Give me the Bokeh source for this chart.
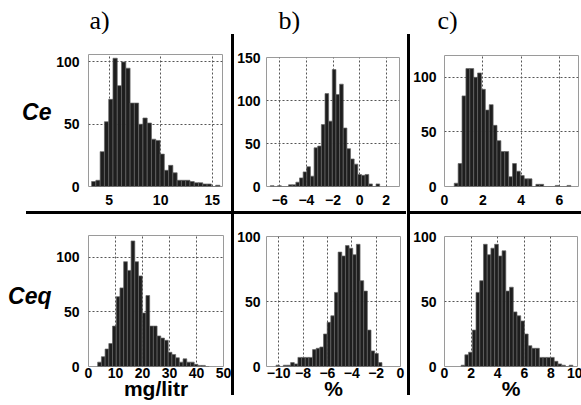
import numpy as np
from bokeh.plotting import figure
from bokeh.layouts import row, column
from bokeh.models import Div, Label, FixedTicker, Spacer, Range1d
from bokeh.embed import file_html
from bokeh.resources import INLINE

# ---------------- data (histogram counts) ----------------
# a) Ce, mg/litr
a_start, a_width = 3.3, 0.415
a_counts = [4, 5, 28, 52, 70, 103, 81, 100, 95, 67, 67, 50, 55, 51, 38, 37, 26, 13, 17, 11,
            5, 5, 5, 4, 3, 3, 2, 2, 0, 1]
# b) Ce, %
b_start, b_width = -6.71, 0.274
b_counts = [1, 0, 1, 0, 0, 2, 2, 5, 10, 17, 23, 12, 45, 47, 72, 108, 76, 136, 107, 119,
            68, 44, 32, 26, 14, 13, 14, 3, 0, 3]
# c) Ce, %
c_start, c_width = 0.51, 0.203
c_counts = [3, 21, 83, 108, 108, 100, 104, 89, 70, 75, 56, 42, 32, 32, 9, 21, 14, 10, 7, 7,
            0, 2, 2, 0, 0, 0, 1, 0, 0, 1]
# a) Ceq, mg/litr
d_start, d_width = 3.4, 1.375
d_counts = [4, 9, 16, 21, 37, 64, 72, 96, 88, 115, 96, 83, 49, 65, 37, 37, 28, 26, 24, 13,
            11, 8, 4, 7, 4, 4, 2, 1, 1, 0]
# b) Ceq, %
e_start, e_width = -10.22, 0.3
e_counts = [1, 0, 1, 1, 3, 2, 7, 7, 7, 7, 13, 14, 15, 25, 34, 39, 57, 88, 85, 93,
            91, 86, 94, 66, 58, 28, 12, 10, 3]
# c) Ceq, %
f_start, f_width = 1.25, 0.28
f_counts = [1, 9, 11, 28, 57, 66, 94, 86, 91, 94, 85, 89, 58, 61, 42, 39, 35, 25, 16, 14,
            14, 7, 7, 7, 7, 4, 2, 1, 0, 1]

a_xticks = [5, 10, 15]
b_xticks = [-6, -4, -2, 0, 2]
c_xticks = [0, 2, 4, 6]
d_xticks = [0, 10, 20, 30, 40, 50]
e_xticks = [-10, -8, -6, -4, -2, 0]
f_xticks = [0, 2, 4, 6, 8, 10]
a_yticks = [0, 50, 100]
b_yticks = [0, 50, 100, 150]
c_yticks = [0, 50, 100]
d_yticks = [0, 50, 100]
e_yticks = [0, 50, 100]
f_yticks = [0, 50, 100]

panel_letters = ["a)", "b)", "c)"]
row_names = ["Ce", "Ceq"]
x_units = ["mg/litr", "%", "%"]

SANS = "Liberation Sans"
SERIF = "Liberation Serif"


def make_hist(start, width, counts, xr, yr, xticks, yticks,
              fw, fh, bl, br, bt, bb, xstand, ystand, xlabel=None):
    p = figure(frame_width=fw, frame_height=fh,
               x_range=Range1d(*xr), y_range=Range1d(*yr),
               min_border_left=bl, min_border_right=br,
               min_border_top=bt, min_border_bottom=bb,
               output_backend="svg", toolbar_location=None, tools="", title=None)
    edges = start + width * np.arange(len(counts) + 1)
    p.quad(left=edges[:-1], right=edges[1:], bottom=0, top=counts,
           fill_color="#1e1e1e", line_color="#666666", line_width=0.7)
    p.xaxis.ticker = FixedTicker(ticks=xticks)
    p.yaxis.ticker = FixedTicker(ticks=yticks)
    p.xgrid.ticker = FixedTicker(ticks=xticks)
    p.ygrid.ticker = FixedTicker(ticks=yticks)
    for g in (p.xgrid, p.ygrid):
        g.grid_line_color = "#555555"
        g.grid_line_dash = "2 2"
        g.grid_line_width = 1
        g.grid_line_alpha = 1.0
    for ax in (p.xaxis, p.yaxis):
        ax.axis_line_color = None
        ax.major_tick_in = 0
        ax.major_tick_out = 0
        ax.minor_tick_in = 0
        ax.minor_tick_out = 0
        ax.major_label_text_font = SANS
        ax.major_label_text_font_style = "bold"
        ax.major_label_text_font_size = "14px"
        ax.major_label_text_color = "black"
    p.xaxis.major_label_standoff = xstand
    p.yaxis.major_label_standoff = ystand
    if xlabel is not None:
        p.xaxis.axis_label = xlabel
        p.xaxis.axis_label_text_font = SANS
        p.xaxis.axis_label_text_font_style = "bold"
        p.xaxis.axis_label_text_font_size = "21px"
        p.xaxis.axis_label_text_color = "black"
        p.xaxis.axis_label_standoff = -4
    p.outline_line_color = "#9a9a9a"
    p.outline_line_width = 1
    p.background_fill_color = "white"
    p.border_fill_color = "white"
    return p


def text_strip(w, h):
    s = figure(width=w, height=h, x_range=Range1d(0, 1), y_range=Range1d(0, 1),
               min_border=0, min_border_left=0, min_border_right=0,
               min_border_top=0, min_border_bottom=0,
               x_axis_type=None, y_axis_type=None, output_backend="svg",
               toolbar_location=None, tools="", title=None)
    s.grid.visible = False
    s.outline_line_color = None
    s.background_fill_color = "white"
    s.border_fill_color = "white"
    return s


pa = make_hist(a_start, a_width, a_counts, (3, 16), (0, 106), a_xticks, a_yticks,
               134, 132, 36, 9, 20, 25, 8, 9)
pb = make_hist(b_start, b_width, b_counts, (-7, 3), (0, 150), b_xticks, b_yticks,
               133, 129, 31, 8, 23, 25, 8, 6)
pc = make_hist(c_start, c_width, c_counts, (0, 7), (0, 120), c_xticks, c_yticks,
               134, 131, 33, 4, 21, 25, 8, 8)
pd = make_hist(d_start, d_width, d_counts, (0, 50), (0, 120), d_xticks, d_yticks,
               135, 131, 36, 8, 21, 38, 1, 9, xlabel=x_units[0])
pe = make_hist(e_start, e_width, e_counts, (-11, 0), (0, 100), e_xticks, e_yticks,
               134, 130, 31, 7, 22, 38, 1, 6, xlabel=x_units[1])
pf = make_hist(f_start, f_width, f_counts, (0, 10), (0, 100), f_xticks, f_yticks,
               133, 130, 33, 5, 22, 38, 1, 8, xlabel=x_units[2])

# strip with the panel letters
top = text_strip(580, 34)
for txt, lx in zip(panel_letters, (89, 278, 437)):
    top.add_layout(Label(x=lx, y=14, x_units="screen", y_units="screen", text=txt,
                         text_font=SERIF, text_font_size="26px", text_color="black",
                         text_baseline="alphabetic", text_align="left"))

# strips with the row names
ce = text_strip(52, 177)
ce.add_layout(Label(x=51, y=100, x_units="screen", y_units="screen", text=row_names[0],
                    text_font=SANS, text_font_size="23px", text_font_style="bold italic",
                    text_color="black", text_baseline="alphabetic", text_align="right"))
ceq = text_strip(52, 190)
ceq.add_layout(Label(x=51, y=109, x_units="screen", y_units="screen", text=row_names[1],
                     text_font=SANS, text_font_size="23px", text_font_style="bold italic",
                     text_color="black", text_baseline="alphabetic", text_align="right"))


def black(w, h):
    return Div(text="", width=w, height=h, margin=0,
               styles={"background-color": "black"})


colL = column(ce, row(Spacer(width=26, height=3, margin=0), black(26, 3), spacing=0), ceq,
              spacing=0)
colA = column(pa, black(179, 3), pd, spacing=0)
colB = column(pb, black(172, 3), pe, spacing=0)
colC = column(pc, black(171, 3), pf, spacing=0)
vsep1 = column(black(3, 361), Spacer(width=3, height=9, margin=0), spacing=0)
vsep2 = column(black(3, 361), Spacer(width=3, height=9, margin=0), spacing=0)

layout = column(top, row(colL, colA, vsep1, colB, vsep2, colC, spacing=0), spacing=0)

open("out.html", "w").write(file_html(layout, INLINE))
